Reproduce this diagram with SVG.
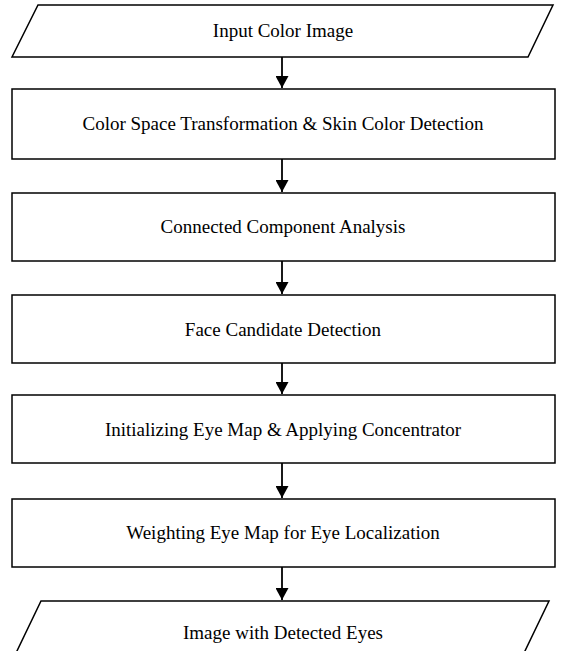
<svg xmlns="http://www.w3.org/2000/svg" width="561" height="651" viewBox="0 0 561 651">
<defs>
<style>
.shape{fill:#fff;stroke:#000;stroke-width:1.5}
.lbl{font-family:"Liberation Serif","Times New Roman",serif;font-size:19px;fill:#000;text-anchor:middle}
.conn{stroke:#000;stroke-width:1.8;fill:none}
</style>
<marker id="ah" markerWidth="13" markerHeight="13" refX="12" refY="6.5" orient="auto" markerUnits="userSpaceOnUse">
<path d="M0,0 L12,6.5 L0,13 Z" fill="#000"/>
</marker>
</defs>
<rect width="561" height="651" fill="#fff"/>
<g id="n1"><polygon class="shape" points="38,5 553,5 528,57 12,57"/><text class="lbl" x="283" y="37">Input Color Image</text></g>
<g id="n2"><rect class="shape" x="12" y="89" width="543" height="70"/><text class="lbl" x="283" y="130">Color Space Transformation &amp; Skin Color Detection</text></g>
<g id="n3"><rect class="shape" x="12" y="193" width="543" height="68"/><text class="lbl" x="283" y="233">Connected Component Analysis</text></g>
<g id="n4"><rect class="shape" x="12" y="295" width="543" height="68"/><text class="lbl" x="283" y="336">Face Candidate Detection</text></g>
<g id="n5"><rect class="shape" x="12" y="395" width="543" height="68"/><text class="lbl" x="283" y="436">Initializing Eye Map &amp; Applying Concentrator</text></g>
<g id="n6"><rect class="shape" x="12" y="499" width="543" height="68"/><text class="lbl" x="283" y="539">Weighting Eye Map for Eye Localization</text></g>
<g id="n7"><polygon class="shape" points="41,601 549,601 524,653 16,653"/><text class="lbl" x="283" y="639">Image with Detected Eyes</text></g>
<g id="connectors">
<line class="conn" x1="282" y1="57" x2="282" y2="88" marker-end="url(#ah)"/>
<line class="conn" x1="282" y1="159" x2="282" y2="192" marker-end="url(#ah)"/>
<line class="conn" x1="282" y1="261" x2="282" y2="294" marker-end="url(#ah)"/>
<line class="conn" x1="282" y1="363" x2="282" y2="394" marker-end="url(#ah)"/>
<line class="conn" x1="282" y1="463" x2="282" y2="498" marker-end="url(#ah)"/>
<line class="conn" x1="282" y1="567" x2="282" y2="600" marker-end="url(#ah)"/>
</g>
</svg>
